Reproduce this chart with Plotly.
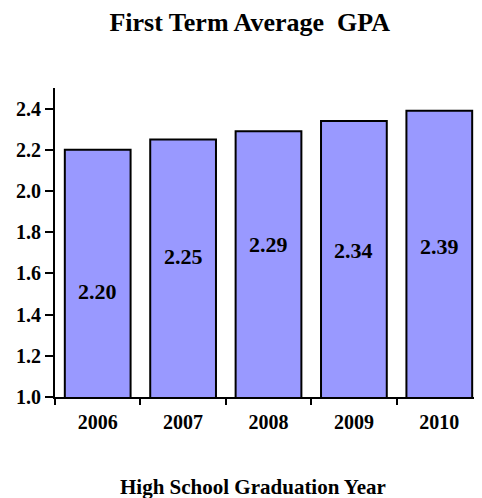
import plotly.graph_objects as go

years = ["2006", "2007", "2008", "2009", "2010"]
gpa = [2.20, 2.25, 2.29, 2.34, 2.39]
label_y = [1.51, 1.68, 1.74, 1.71, 1.73]
y_ticks = [1.0, 1.2, 1.4, 1.6, 1.8, 2.0, 2.2, 2.4]

FONT = "Liberation Serif"

fig = go.Figure()
fig.add_trace(go.Bar(
    x=years, y=gpa,
    marker=dict(color="#9999FF", line=dict(color="black", width=2)),
    hoverinfo="skip",
))

for i, (v, ly) in enumerate(zip(gpa, label_y)):
    fig.add_annotation(x=i, y=ly, text=f"{v:.2f}", showarrow=False,
                       xanchor="center", yanchor="middle",
                       font=dict(family=FONT, size=22, color="black", weight="bold"))

fig.add_annotation(xref="paper", yref="paper", x=0.464, y=-0.291,
                   xanchor="center", yanchor="middle",
                   text="High School Graduation Year", showarrow=False,
                   font=dict(family=FONT, size=21, color="black", weight="bold"))

fig.update_layout(
    width=474, height=498,
    margin=dict(l=47, r=0, t=80, b=109),
    paper_bgcolor="white", plot_bgcolor="white",
    bargap=0.23,
    showlegend=False,
    title=dict(text="First Term Average  GPA", x=0.51, xanchor="center",
               y=1 - 14 / 498, yanchor="middle",
               font=dict(family=FONT, size=26, color="black", weight="bold")),
    font=dict(family=FONT, color="black"),
)
fig.update_xaxes(
    type="category", range=[-0.5, 4.5], showline=True, linecolor="black", linewidth=2,
    ticks="outside", tickson="boundaries", ticklen=6, tickwidth=2, tickcolor="black",
    tickfont=dict(family=FONT, size=20, color="black", weight="bold"),
    ticklabelstandoff=6,
    tickangle=0, showgrid=False, zeroline=False,
)
fig.update_yaxes(
    range=[1.0, 2.5], tickvals=y_ticks, tickformat=".1f",
    showline=True, linecolor="black", linewidth=2,
    ticks="outside", ticklen=8, tickwidth=2, tickcolor="black",
    tickfont=dict(family=FONT, size=20, color="black", weight="bold"),
    showgrid=False, zeroline=False,
)

fig.write_html("out.html")
